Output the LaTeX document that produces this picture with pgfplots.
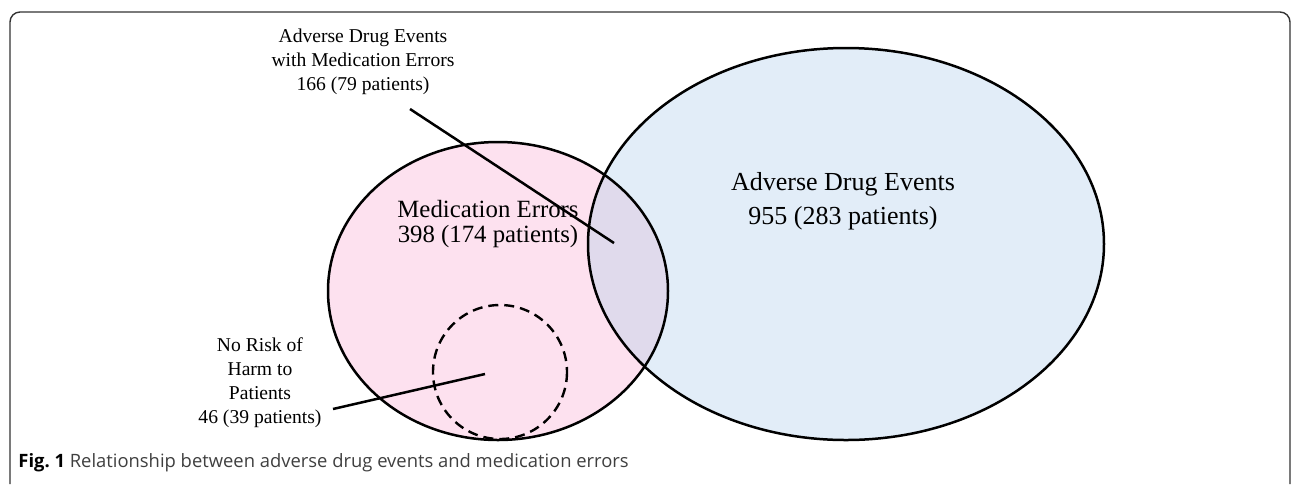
\documentclass[border=0pt]{standalone}
\usepackage{pgfplots}
\pgfplotsset{compat=1.18}
\usepackage{fontspec}
\setmainfont{Liberation Serif}
\newfontfamily\capfont{Open Sans}
\definecolor{pinkf}{HTML}{FDE1EF}
\definecolor{bluef}{HTML}{E2EDF8}
\definecolor{interf}{HTML}{E0DAEC}
\definecolor{capgray}{HTML}{3F3F3F}
\definecolor{framec}{HTML}{333333}
\begin{document}
\begin{tikzpicture}
\begin{axis}[name=ax, width=646pt, height=242pt, scale only axis,
  xmin=0, xmax=1292, ymin=0, ymax=484, y dir=reverse,
  axis lines=none, clip=false]
% frame
\draw[framec, line width=0.7pt, rounded corners=5pt] (axis cs:10,484) -- (axis cs:10,12) -- (axis cs:1290,12) -- (axis cs:1290,484);
% fills
\fill[pinkf] (axis cs:498,291) ellipse [x radius=170, y radius=149];
\fill[bluef] (axis cs:846,244) ellipse [x radius=258, y radius=196];
\begin{scope}
\clip (axis cs:498,291) ellipse [x radius=170, y radius=149];
\fill[interf] (axis cs:846,244) ellipse [x radius=258, y radius=196];
\end{scope}
% outlines
\draw[black, line width=1.25pt] (axis cs:498,291) ellipse [x radius=170, y radius=149];
\draw[black, line width=1.25pt] (axis cs:846,244) ellipse [x radius=258, y radius=196];
\draw[black, line width=1.2pt, dash pattern=on 5pt off 3pt] (axis cs:500,372) circle [radius=67];
% leader lines
\addplot[black, line width=1.25pt, no marks] coordinates {(410,109) (614,243)};
\addplot[black, line width=1.25pt, no marks] coordinates {(333,409) (485,374)};
% labels
\node[align=center, font=\fontsize{9.8pt}{12pt}\selectfont] at (axis cs:363,62) {Adverse Drug Events\\with Medication Errors\\166 (79 patients)};
\node[align=center, font=\fontsize{12.4pt}{12.5pt}\selectfont] at (axis cs:488,224) {Medication Errors\\398 (174 patients)};
\node[align=center, font=\fontsize{13pt}{17pt}\selectfont] at (axis cs:843,201) {Adverse Drug Events\\955 (283 patients)};
\node[align=center, font=\fontsize{9.8pt}{12pt}\selectfont] at (axis cs:260,383) {No Risk of\\Harm to\\Patients\\46 (39 patients)};
\node[anchor=west, inner sep=0pt, font=\capfont\fontsize{9.2pt}{11pt}\selectfont] at (axis cs:18,463) {\textbf{Fig.~1}\ \textcolor{capgray}{Relationship between adverse drug events and medication errors}};
\end{axis}
\pgfresetboundingbox
\path (ax.south west) rectangle (ax.north east);
\end{tikzpicture}
\end{document}
